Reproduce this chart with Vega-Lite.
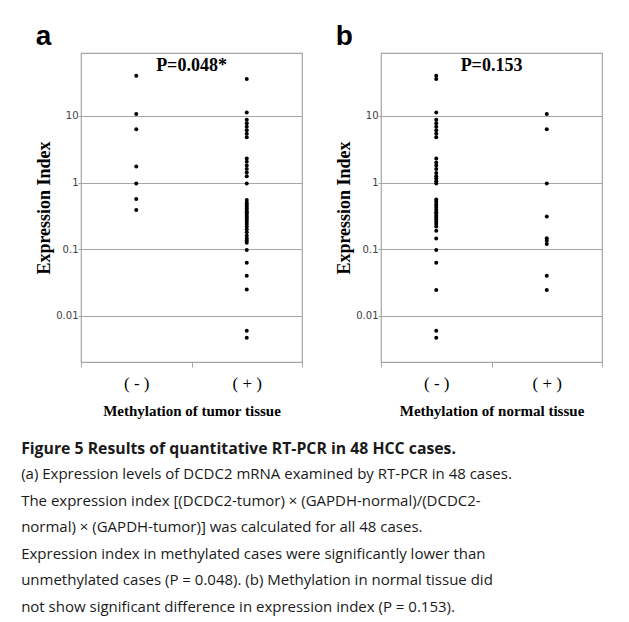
{
  "$schema": "https://vega.github.io/schema/vega-lite/v6.json",
  "background": "white",
  "padding": {"left": 21, "top": 22, "right": 5, "bottom": 5},
  "datasets": {
    "pts": [
      {"panel": "a", "methylation": "( - )", "value": 40.2},
      {"panel": "a", "methylation": "( - )", "value": 10.7},
      {"panel": "a", "methylation": "( - )", "value": 6.3},
      {"panel": "a", "methylation": "( - )", "value": 1.74},
      {"panel": "a", "methylation": "( - )", "value": 0.97},
      {"panel": "a", "methylation": "( - )", "value": 0.57},
      {"panel": "a", "methylation": "( - )", "value": 0.39},
      {"panel": "a", "methylation": "( + )", "value": 35.9},
      {"panel": "a", "methylation": "( + )", "value": 11.3},
      {"panel": "a", "methylation": "( + )", "value": 8.8},
      {"panel": "a", "methylation": "( + )", "value": 7.8},
      {"panel": "a", "methylation": "( + )", "value": 6.9},
      {"panel": "a", "methylation": "( + )", "value": 6.1},
      {"panel": "a", "methylation": "( + )", "value": 5.4},
      {"panel": "a", "methylation": "( + )", "value": 4.8},
      {"panel": "a", "methylation": "( + )", "value": 2.3},
      {"panel": "a", "methylation": "( + )", "value": 2.05},
      {"panel": "a", "methylation": "( + )", "value": 1.8},
      {"panel": "a", "methylation": "( + )", "value": 1.6},
      {"panel": "a", "methylation": "( + )", "value": 1.42},
      {"panel": "a", "methylation": "( + )", "value": 1.25},
      {"panel": "a", "methylation": "( + )", "value": 0.97},
      {"panel": "a", "methylation": "( + )", "value": 0.55},
      {"panel": "a", "methylation": "( + )", "value": 0.5},
      {"panel": "a", "methylation": "( + )", "value": 0.47},
      {"panel": "a", "methylation": "( + )", "value": 0.44},
      {"panel": "a", "methylation": "( + )", "value": 0.41},
      {"panel": "a", "methylation": "( + )", "value": 0.38},
      {"panel": "a", "methylation": "( + )", "value": 0.36},
      {"panel": "a", "methylation": "( + )", "value": 0.34},
      {"panel": "a", "methylation": "( + )", "value": 0.32},
      {"panel": "a", "methylation": "( + )", "value": 0.3},
      {"panel": "a", "methylation": "( + )", "value": 0.28},
      {"panel": "a", "methylation": "( + )", "value": 0.26},
      {"panel": "a", "methylation": "( + )", "value": 0.24},
      {"panel": "a", "methylation": "( + )", "value": 0.22},
      {"panel": "a", "methylation": "( + )", "value": 0.2},
      {"panel": "a", "methylation": "( + )", "value": 0.18},
      {"panel": "a", "methylation": "( + )", "value": 0.16},
      {"panel": "a", "methylation": "( + )", "value": 0.145},
      {"panel": "a", "methylation": "( + )", "value": 0.135},
      {"panel": "a", "methylation": "( + )", "value": 0.125},
      {"panel": "a", "methylation": "( + )", "value": 0.098},
      {"panel": "a", "methylation": "( + )", "value": 0.063},
      {"panel": "a", "methylation": "( + )", "value": 0.04},
      {"panel": "a", "methylation": "( + )", "value": 0.025},
      {"panel": "a", "methylation": "( + )", "value": 0.006},
      {"panel": "a", "methylation": "( + )", "value": 0.0047},
      {"panel": "b", "methylation": "( - )", "value": 40},
      {"panel": "b", "methylation": "( - )", "value": 36},
      {"panel": "b", "methylation": "( - )", "value": 11.3},
      {"panel": "b", "methylation": "( - )", "value": 8.8},
      {"panel": "b", "methylation": "( - )", "value": 7.8},
      {"panel": "b", "methylation": "( - )", "value": 6.9},
      {"panel": "b", "methylation": "( - )", "value": 6.1},
      {"panel": "b", "methylation": "( - )", "value": 5.4},
      {"panel": "b", "methylation": "( - )", "value": 4.8},
      {"panel": "b", "methylation": "( - )", "value": 2.3},
      {"panel": "b", "methylation": "( - )", "value": 2.0},
      {"panel": "b", "methylation": "( - )", "value": 1.8},
      {"panel": "b", "methylation": "( - )", "value": 1.6},
      {"panel": "b", "methylation": "( - )", "value": 1.4},
      {"panel": "b", "methylation": "( - )", "value": 1.25},
      {"panel": "b", "methylation": "( - )", "value": 1.15},
      {"panel": "b", "methylation": "( - )", "value": 1.05},
      {"panel": "b", "methylation": "( - )", "value": 0.97},
      {"panel": "b", "methylation": "( - )", "value": 0.56},
      {"panel": "b", "methylation": "( - )", "value": 0.52},
      {"panel": "b", "methylation": "( - )", "value": 0.48},
      {"panel": "b", "methylation": "( - )", "value": 0.45},
      {"panel": "b", "methylation": "( - )", "value": 0.42},
      {"panel": "b", "methylation": "( - )", "value": 0.39},
      {"panel": "b", "methylation": "( - )", "value": 0.36},
      {"panel": "b", "methylation": "( - )", "value": 0.34},
      {"panel": "b", "methylation": "( - )", "value": 0.32},
      {"panel": "b", "methylation": "( - )", "value": 0.3},
      {"panel": "b", "methylation": "( - )", "value": 0.28},
      {"panel": "b", "methylation": "( - )", "value": 0.26},
      {"panel": "b", "methylation": "( - )", "value": 0.24},
      {"panel": "b", "methylation": "( - )", "value": 0.22},
      {"panel": "b", "methylation": "( - )", "value": 0.19},
      {"panel": "b", "methylation": "( - )", "value": 0.145},
      {"panel": "b", "methylation": "( - )", "value": 0.098},
      {"panel": "b", "methylation": "( - )", "value": 0.063},
      {"panel": "b", "methylation": "( - )", "value": 0.0245},
      {"panel": "b", "methylation": "( - )", "value": 0.006},
      {"panel": "b", "methylation": "( - )", "value": 0.0047},
      {"panel": "b", "methylation": "( + )", "value": 10.7},
      {"panel": "b", "methylation": "( + )", "value": 6.3},
      {"panel": "b", "methylation": "( + )", "value": 0.97},
      {"panel": "b", "methylation": "( + )", "value": 0.31},
      {"panel": "b", "methylation": "( + )", "value": 0.146},
      {"panel": "b", "methylation": "( + )", "value": 0.134},
      {"panel": "b", "methylation": "( + )", "value": 0.12},
      {"panel": "b", "methylation": "( + )", "value": 0.04},
      {"panel": "b", "methylation": "( + )", "value": 0.0245}
    ],
    "pa": [{"p": "P=0.048*"}],
    "pb": [{"p": "P=0.153"}]
  },
  "title": {
    "text": "Figure 5 Results of quantitative RT-PCR in 48 HCC cases.",
    "subtitle": [
      "(a) Expression levels of DCDC2 mRNA examined by RT-PCR in 48 cases.",
      "The expression index [(DCDC2-tumor) × (GAPDH-normal)/(DCDC2-",
      "normal) × (GAPDH-tumor)] was calculated for all 48 cases.",
      "Expression index in methylated cases were significantly lower than",
      "unmethylated cases (P = 0.048). (b) Methylation in normal tissue did",
      "not show significant difference in expression index (P = 0.153)."
    ],
    "orient": "bottom",
    "anchor": "start",
    "frame": "bounds",
    "dx": -14,
    "offset": 23,
    "font": "Open Sans",
    "fontSize": 15.8,
    "fontWeight": "bold",
    "color": "#1a1a1a",
    "subtitleFont": "Open Sans",
    "subtitleFontSize": 15,
    "subtitleColor": "#1a1a1a",
    "subtitleLineHeight": 26.5,
    "subtitlePadding": 10
  },
  "spacing": 31,
  "hconcat": [
    {
      "width": 221,
      "height": 309,
      "title": {"text": "a", "anchor": "start", "frame": "bounds", "font": "Liberation Sans", "fontSize": 28, "fontWeight": "bold", "color": "black", "offset": 2},
      "layer": [
        {
          "data": {"name": "pts"},
          "transform": [{"filter": "datum.panel === 'a'"}],
          "mark": {"type": "point", "filled": true, "size": 16, "color": "black", "opacity": 1},
          "encoding": {
            "x": {"field": "methylation", "type": "nominal", "scale": {"domain": ["( - )", "( + )"], "type": "band", "paddingInner": 0, "paddingOuter": 0}, "axis": {"title": "Methylation of tumor tissue", "labelAngle": 0}},
            "y": {"field": "value", "type": "quantitative", "scale": {"type": "log", "domain": [0.00204, 88], "nice": false}, "axis": {"values": [0.01, 0.1, 1, 10], "format": "~g", "title": "Expression Index"}}
          }
        },
        {
          "data": {"name": "pa"},
          "mark": {"type": "text", "font": "Liberation Serif", "fontSize": 18, "fontWeight": "bold", "baseline": "middle", "color": "black"},
          "encoding": {"y": {"datum": 57}, "text": {"field": "p"}}
        }
      ]
    },
    {
      "width": 221,
      "height": 309,
      "title": {"text": "b", "anchor": "start", "frame": "bounds", "font": "Liberation Sans", "fontSize": 28, "fontWeight": "bold", "color": "black", "offset": 2},
      "layer": [
        {
          "data": {"name": "pts"},
          "transform": [{"filter": "datum.panel === 'b'"}],
          "mark": {"type": "point", "filled": true, "size": 16, "color": "black", "opacity": 1},
          "encoding": {
            "x": {"field": "methylation", "type": "nominal", "scale": {"domain": ["( - )", "( + )"], "type": "band", "paddingInner": 0, "paddingOuter": 0}, "axis": {"title": "Methylation of normal tissue", "labelAngle": 0}},
            "y": {"field": "value", "type": "quantitative", "scale": {"type": "log", "domain": [0.00204, 88], "nice": false}, "axis": {"values": [0.01, 0.1, 1, 10], "format": "~g", "title": "Expression Index"}}
          }
        },
        {
          "data": {"name": "pb"},
          "mark": {"type": "text", "font": "Liberation Serif", "fontSize": 18, "fontWeight": "bold", "baseline": "middle", "color": "black"},
          "encoding": {"y": {"datum": 57}, "text": {"field": "p"}}
        }
      ]
    }
  ],
  "config": {
    "view": {"stroke": "#a6a6a6", "strokeWidth": 1.2},
    "axis": {"domain": false, "titleColor": "black"},
    "axisY": {
      "grid": true, "gridColor": "#a6a6a6", "gridWidth": 1.2,
      "tickColor": "#a6a6a6", "tickSize": 3,
      "labelFont": "DejaVu Sans", "labelFontSize": 10, "labelColor": "#404040", "labelPadding": 0,
      "titleFont": "Liberation Serif", "titleFontSize": 18, "titleFontWeight": "bold", "titlePadding": 2
    },
    "axisX": {
      "grid": false, "tickBand": "extent", "tickColor": "#a6a6a6", "tickSize": 5,
      "labelFont": "Liberation Serif", "labelFontSize": 17, "labelColor": "black", "labelPadding": 8,
      "titleFont": "Liberation Serif", "titleFontSize": 15, "titleFontWeight": "bold", "titlePadding": 12
    }
  }
}
